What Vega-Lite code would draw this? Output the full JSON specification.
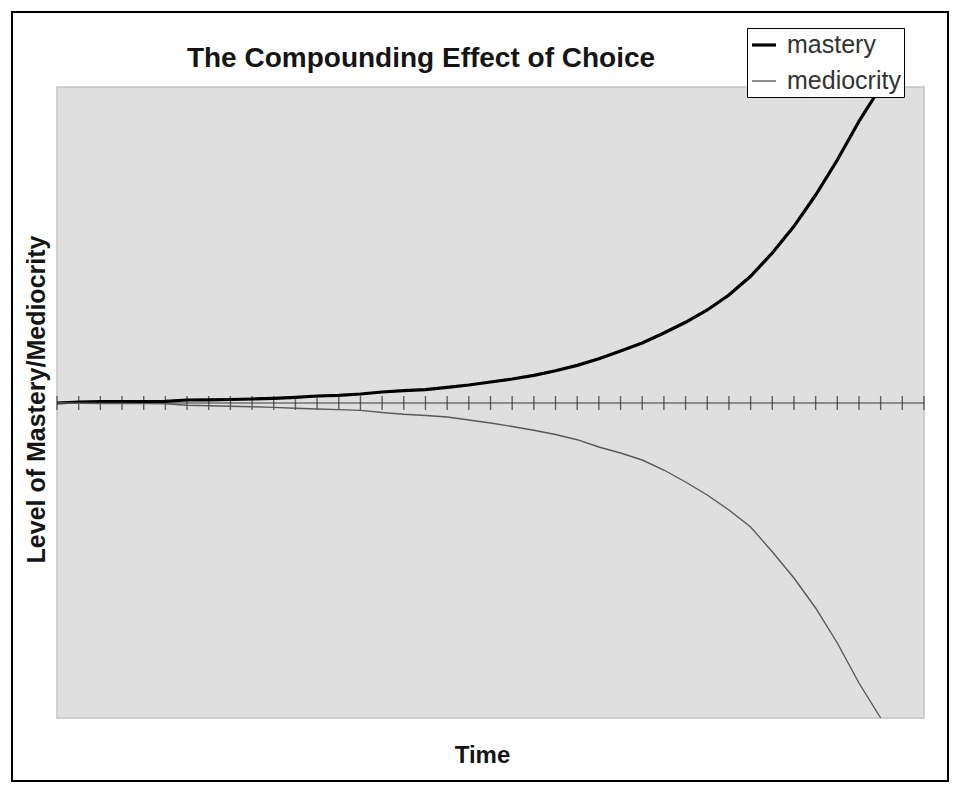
{
  "$schema": "https://vega.github.io/schema/vega-lite/v6.json",
  "description": "The Compounding Effect of Choice: mastery vs mediocrity over time.",
  "autosize": {"type": "none"},
  "padding": {"left": 12, "top": 12, "right": 12, "bottom": 12},
  "width": 936,
  "height": 769,
  "background": "white",
  "config": {
    "font": "Liberation Sans",
    "view": {"stroke": "black", "strokeWidth": 2, "fill": "white"}
  },
  "title": {
    "text": "The Compounding Effect of Choice",
    "fontSize": 28,
    "fontWeight": "bold",
    "color": "#151515",
    "anchor": "middle",
    "baseline": "alphabetic",
    "offset": -83,
    "dx": -59
  },
  "data": {
    "values": [
      {"t": 0, "mastery": 0, "mediocrity": 0},
      {"t": 1, "mastery": 1, "mediocrity": -0.3},
      {"t": 2, "mastery": 1.3, "mediocrity": -0.5},
      {"t": 3, "mastery": 1.5, "mediocrity": -0.5},
      {"t": 4, "mastery": 1.5, "mediocrity": -0.6},
      {"t": 5, "mastery": 1.6, "mediocrity": -0.8},
      {"t": 6, "mastery": 3, "mediocrity": -2.3},
      {"t": 7, "mastery": 3.1, "mediocrity": -2.7},
      {"t": 8, "mastery": 3.5, "mediocrity": -3.2},
      {"t": 9, "mastery": 4, "mediocrity": -3.7},
      {"t": 10, "mastery": 4.6, "mediocrity": -4.4},
      {"t": 11, "mastery": 5.6, "mediocrity": -5.3},
      {"t": 12, "mastery": 7, "mediocrity": -6},
      {"t": 13, "mastery": 7.6, "mediocrity": -6.6},
      {"t": 14, "mastery": 9, "mediocrity": -7.4},
      {"t": 15, "mastery": 11, "mediocrity": -9.5},
      {"t": 16, "mastery": 12.3, "mediocrity": -11.3},
      {"t": 17, "mastery": 13.3, "mediocrity": -12.5},
      {"t": 18, "mastery": 15.7, "mediocrity": -14},
      {"t": 19, "mastery": 18, "mediocrity": -17},
      {"t": 20, "mastery": 21, "mediocrity": -20},
      {"t": 21, "mastery": 24, "mediocrity": -23.5},
      {"t": 22, "mastery": 27.6, "mediocrity": -27.3},
      {"t": 23, "mastery": 32.3, "mediocrity": -31.5},
      {"t": 24, "mastery": 37.6, "mediocrity": -36.7},
      {"t": 25, "mastery": 44.3, "mediocrity": -44},
      {"t": 26, "mastery": 52, "mediocrity": -50},
      {"t": 27, "mastery": 60, "mediocrity": -57},
      {"t": 28, "mastery": 70, "mediocrity": -67},
      {"t": 29, "mastery": 80.7, "mediocrity": -79},
      {"t": 30, "mastery": 93, "mediocrity": -92},
      {"t": 31, "mastery": 108, "mediocrity": -107},
      {"t": 32, "mastery": 126.7, "mediocrity": -124},
      {"t": 33, "mastery": 150, "mediocrity": -148.7},
      {"t": 34, "mastery": 176.7, "mediocrity": -175},
      {"t": 35, "mastery": 208, "mediocrity": -205},
      {"t": 36, "mastery": 243, "mediocrity": -240},
      {"t": 37, "mastery": 281.7, "mediocrity": -280},
      {"t": 38, "mastery": 316, "mediocrity": -315},
      {"t": 39},
      {"t": 40}
    ]
  },
  "layer": [
    {
      "data": {"values": [{}]},
      "mark": {"type": "rect", "fill": "#dfdfdf", "stroke": "#c4c4c4", "strokeWidth": 1.5},
      "encoding": {
        "x": {"datum": 0, "type": "quantitative", "scale": {"domain": [-2.076, 41.107], "nice": false, "zero": false}},
        "x2": {"datum": 40},
        "y": {"datum": -315, "type": "quantitative", "scale": {"domain": [-378, 391], "nice": false, "zero": false}},
        "y2": {"datum": 316}
      }
    },
    {
      "data": {"values": [{}]},
      "mark": {"type": "rule", "color": "#3a3a3a", "strokeWidth": 1.2},
      "encoding": {
        "x": {"datum": 0, "type": "quantitative"},
        "x2": {"datum": 40},
        "y": {"datum": 0, "type": "quantitative"}
      }
    },
    {
      "mark": {"type": "tick", "orient": "vertical", "size": 14, "thickness": 1.4, "color": "#2a2a2a"},
      "encoding": {
        "x": {"field": "t", "type": "quantitative"},
        "y": {"datum": 0, "type": "quantitative"}
      }
    },
    {
      "transform": [{"fold": ["mastery", "mediocrity"], "as": ["series", "level"]}],
      "mark": {"type": "line", "interpolate": "linear"},
      "encoding": {
        "x": {
          "field": "t",
          "type": "quantitative",
          "scale": {"domain": [-2.076, 41.107], "nice": false, "zero": false},
          "axis": {
            "title": "Time",
            "domain": false,
            "ticks": false,
            "labels": false,
            "grid": false,
            "titleFontSize": 24,
            "titleFontWeight": "bold",
            "titleColor": "#151515",
            "titleX": 470,
            "titleY": -19,
            "titleAlign": "center",
            "titleBaseline": "alphabetic"
          }
        },
        "y": {
          "field": "level",
          "type": "quantitative",
          "scale": {"domain": [-378, 391], "nice": false, "zero": false},
          "axis": {
            "title": "Level of Mastery/Mediocrity",
            "domain": false,
            "ticks": false,
            "labels": false,
            "grid": false,
            "titleFontSize": 25,
            "titleFontWeight": "bold",
            "titleColor": "#151515",
            "titleAngle": -90,
            "titleX": 32,
            "titleY": 387,
            "titleAlign": "center",
            "titleBaseline": "alphabetic"
          }
        },
        "color": {
          "field": "series",
          "type": "nominal",
          "scale": {"domain": ["mastery", "mediocrity"], "range": ["#000000", "#595959"]},
          "legend": {
            "title": null,
            "orient": "none",
            "legendX": 735,
            "legendY": 16,
            "symbolType": "stroke",
            "symbolSize": 576,
            "labelFontSize": 25,
            "labelColor": "#333333",
            "labelOffset": 9,
            "rowPadding": 10,
            "padding": 3,
            "strokeColor": "#000000",
            "fillColor": "#ffffff"
          }
        },
        "strokeWidth": {
          "field": "series",
          "type": "nominal",
          "scale": {"domain": ["mastery", "mediocrity"], "range": [3.2, 1.4]},
          "legend": {
            "title": null,
            "orient": "none",
            "legendX": 735,
            "legendY": 16,
            "symbolType": "stroke",
            "symbolSize": 576,
            "labelFontSize": 25,
            "labelColor": "#333333",
            "labelOffset": 9,
            "rowPadding": 10,
            "padding": 3,
            "strokeColor": "#000000",
            "fillColor": "#ffffff"
          }
        }
      }
    }
  ]
}
